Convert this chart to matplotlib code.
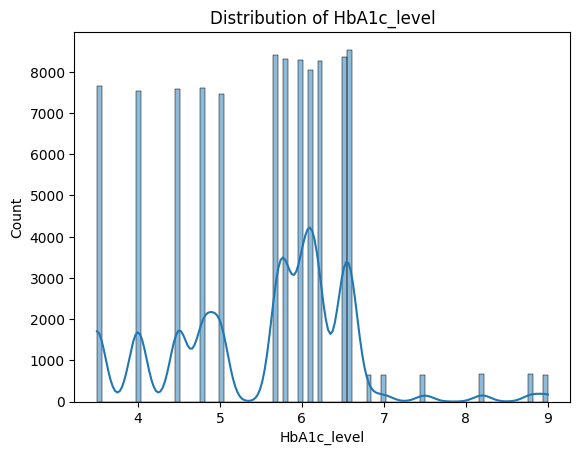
import matplotlib
matplotlib.use('Agg')
import matplotlib.pyplot as plt
import numpy as np
import pandas as pd
import seaborn as sns

# HbA1c levels and how many rows have each value
levels = [3.5, 4.0, 4.5, 4.8, 5.0, 5.7, 5.8, 6.0, 6.1, 6.2, 6.5, 6.6, 6.8, 7.0, 7.5, 8.2, 8.8, 9.0]
counts = [7662, 7542, 7585, 7597, 7471, 8413, 8321, 8295, 8048, 8269, 8362, 8540, 642, 634, 643, 661, 661, 654]

df = pd.DataFrame({'HbA1c_level': np.repeat(levels, counts)})

fig, ax = plt.subplots(figsize=(6.4, 4.8))
sns.histplot(data=df, x='HbA1c_level', kde=True, ax=ax)
ax.set_title('Distribution of HbA1c_level')

fig.savefig('out.png', dpi=100, bbox_inches='tight')
